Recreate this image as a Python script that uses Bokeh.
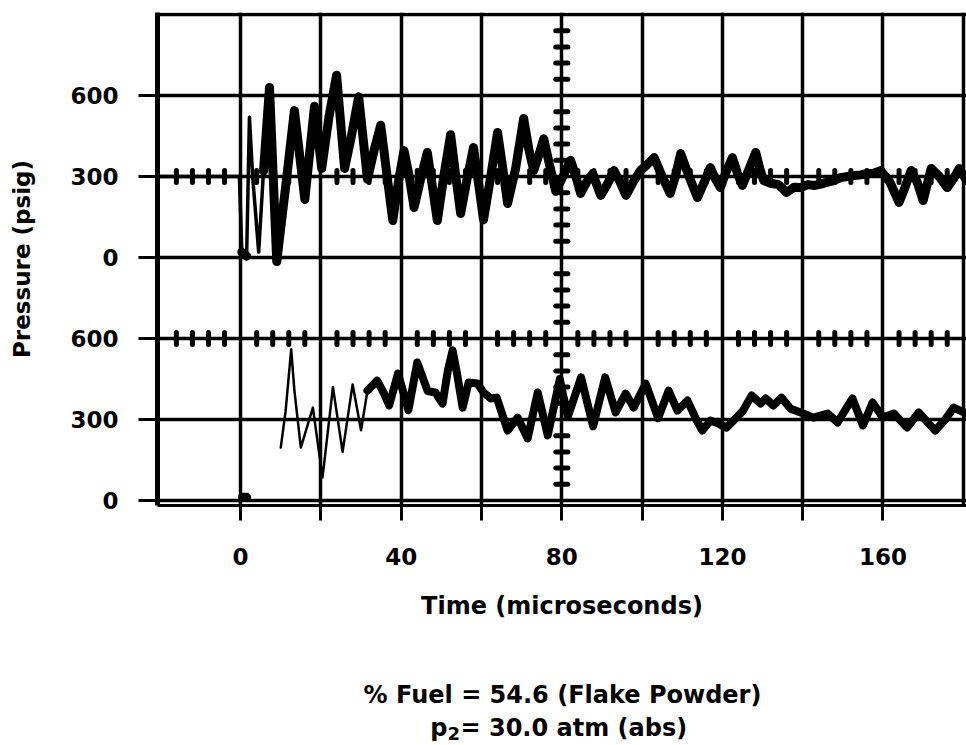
from bokeh.plotting import figure
from bokeh.layouts import column
from bokeh.models import FixedTicker, Range1d
from bokeh.core.properties import value
from bokeh.embed import file_html
from bokeh.resources import INLINE

# ---------------------------------------------------------------------------
# Pressure records (psig) against time (microseconds)
# ---------------------------------------------------------------------------

# upper gauge
top_time = [-20.7, -0.3, 0.3, 1.5, 2.2, 3.0, 4.5, 5.7, 7.2, 9.0, 11.2, 13.4, 16.0,
            18.4, 20.2, 22.0, 23.9, 25.9, 27.6, 29.4, 31.6, 33.3, 34.9, 36.5,
            37.9, 39.3, 40.7, 42.0, 43.2, 45.0, 46.5, 47.8, 49.0, 50.6, 52.3,
            53.6, 54.8, 56.4, 58.0, 59.3, 60.5, 62.3, 64.0, 65.3, 66.5, 68.5,
            70.5, 71.8, 73.0, 74.3, 75.5, 77.0, 78.5, 80.3, 82.2, 83.5, 84.7,
            86.2, 87.7, 88.7, 89.7, 91.3, 93.0, 94.5, 96.0, 97.8, 99.5, 101.3,
            103.0, 105.0, 107.0, 108.3, 109.6, 111.7, 113.8, 115.5, 117.0,
            118.3, 119.5, 121.0, 122.5, 123.8, 125.0, 126.7, 128.3, 129.3,
            130.3, 132.0, 134.0, 136.0, 137.8, 139.5, 141.3, 143.0, 144.5,
            146.0, 147.7, 149.4, 151.2, 153.0, 154.5, 156.0, 157.7, 159.4,
            161.7, 164.0, 165.5, 167.0, 168.5, 170.0, 171.0, 172.0, 174.0,
            176.0, 177.5, 179.0, 180.8]
top_psig = [300, 300, 20, 5, 519, 300, 20, 320, 630, -15, 260, 544, 215,
            560, 330, 520, 675, 330, 450, 595, 290, 400, 490, 300,
            137, 280, 396, 300, 185, 300, 389, 260, 137, 300, 455,
            300, 163, 290, 407, 270, 140, 300, 463, 330, 200, 330,
            515, 400, 322, 380, 440, 340, 245, 300, 360, 300, 237,
            280, 311, 270, 230, 270, 322, 280, 230, 280, 320, 345,
            370, 300, 237, 300, 385, 300, 222, 280, 333,
            290, 259, 320, 370, 310, 267, 330, 389, 330,
            285, 275, 270, 241, 260, 259, 270, 267, 272,
            278, 285, 296, 300, 304, 306, 311, 312, 322,
            280, 204, 260, 322, 280, 211, 270, 330, 300,
            259, 290, 330, 285]

# lower gauge
bottom_time = [0.5, 1.5, 10.0, 11.2, 12.6, 13.4, 15.0, 18.0, 20.4, 23.0, 25.4,
               27.9, 30.0, 31.6, 34.0, 35.6, 37.0, 39.2, 41.8, 44.0, 46.6,
               48.5, 50.3, 51.6, 52.8, 53.9, 55.3, 56.8, 59.0, 60.5, 62.3, 63.8,
               66.5, 69.0, 71.5, 74.0, 76.5, 79.5, 81.5, 84.8, 87.8, 90.8, 93.4,
               95.9, 97.9, 100.9, 104.0, 106.6, 108.8, 111.3, 113.5, 115.0,
               117.0, 119.0, 121.0, 123.5, 125.0, 127.3, 129.5, 130.8, 132.7,
               134.7, 137.0, 139.5, 142.7, 146.2, 148.7, 152.4, 155.0, 157.4,
               160.0, 162.7, 166.0, 168.9, 173.0, 175.5, 177.6, 180.8]
bottom_psig = [12, 12, 196, 330, 560, 407, 196, 344, 85, 420, 180,
               430, 260, 407, 444, 400, 352, 470, 335, 511, 405,
               400, 359, 480, 556, 470, 344, 437, 433, 400, 378, 381,
               259, 307, 230, 400, 241, 450, 310, 456, 275, 456, 326,
               396, 344, 433, 305, 407, 333, 370, 300, 259,
               296, 285, 270, 307, 330, 389, 359, 378, 352,
               381, 340, 326, 307, 322, 289, 378, 278, 363,
               307, 322, 270, 326, 259, 300, 344, 322]

# axis ticks and labels
x_ticks = [0, 20, 40, 60, 80, 100, 120, 140, 160]
x_tick_labels = ["0", "", "40", "", "80", "", "120", "", "160"]
y_ticks = [0, 300, 600, 900, 1200, 1500]
y_tick_labels = ["0", "300", "600", "0", "300", "600"]

# caption
caption_line1 = "% Fuel = 54.6 (Flake Powder)"
caption_p, caption_sub, caption_rest = "p", "2", "= 30.0 atm (abs)"

UPPER_OFFSET = 900          # upper record is stacked 900 units above the lower
FONT = "DejaVu Sans"
CHART_H = 632
CAPTION_H = 745 - CHART_H
FRAME_LEFT = 157

# ---------------------------------------------------------------------------
p = figure(width=966, height=CHART_H,
           x_range=Range1d(-20.7, 180.8), y_range=Range1d(-18.5, 1807.4),
           output_backend="svg", toolbar_location=None,
           min_border_left=FRAME_LEFT, min_border_right=0,
           min_border_top=12, min_border_bottom=CHART_H - 505)
p.background_fill_color = "white"
p.border_fill_color = "white"
p.outline_line_color = None

# graticule
p.xgrid.ticker = FixedTicker(ticks=list(range(0, 181, 20)))
p.ygrid.ticker = FixedTicker(ticks=list(range(0, 1801, 300)))
for g in (p.xgrid, p.ygrid):
    g.grid_line_color = "black"
    g.grid_line_width = 3.5
    g.grid_line_alpha = 1.0

# axes
xa = p.xaxis[0]
xa.ticker = FixedTicker(ticks=x_ticks)
xa.major_label_overrides = dict(zip(x_ticks, x_tick_labels))
xa.axis_line_width = 3
xa.major_tick_line_width = 3
xa.major_tick_out = 15
xa.major_tick_in = 0
xa.minor_tick_line_color = None
xa.major_label_standoff = 27
xa.major_label_text_font = FONT
xa.major_label_text_font_style = "bold"
xa.major_label_text_font_size = "23px"
xa.major_label_text_color = "black"
xa.axis_label = "Time (microseconds)"
xa.axis_label_text_font = FONT
xa.axis_label_text_font_style = "bold"
xa.axis_label_text_font_size = "24px"
xa.axis_label_text_color = "black"
xa.axis_label_standoff = 24

ya = p.yaxis[0]
ya.ticker = FixedTicker(ticks=y_ticks)
ya.major_label_overrides = dict(zip(y_ticks, y_tick_labels))
ya.axis_line_width = 5
ya.major_tick_line_width = 3
ya.major_tick_out = 19
ya.major_tick_in = 0
ya.minor_tick_line_color = None
ya.major_label_standoff = 20
ya.major_label_text_font = FONT
ya.major_label_text_font_style = "bold"
ya.major_label_text_font_size = "23px"
ya.major_label_text_color = "black"
ya.axis_label = "Pressure (psig)"
ya.axis_label_text_font = FONT
ya.axis_label_text_font_style = "bold"
ya.axis_label_text_font_size = "23px"
ya.axis_label_text_color = "black"
ya.axis_label_standoff = 32

# timing marks: every 4 us along the reference lines, every 60 units up the 80 us line
mark_t = [t for t in range(-16, 180, 4) if t % 20 != 0]
mark_y = [v for v in range(60, 1800, 60) if v % 300 != 0]
half_v = 22      # half-length of a vertical mark, y units
half_h = 1.5     # half-length of a horizontal mark, us
for base in (1200, 600):
    p.segment(x0=mark_t, y0=[base - half_v] * len(mark_t),
              x1=mark_t, y1=[base + half_v] * len(mark_t),
              line_width=5, line_cap="round", color="black")
p.segment(x0=[80 - half_h] * len(mark_y), y0=mark_y,
          x1=[80 + half_h] * len(mark_y), y1=mark_y,
          line_width=5, line_cap="round", color="black")

# upper record: fast initial excursion drawn faint, the rest heavy
top_y = [v + UPPER_OFFSET for v in top_psig]
split_top = top_time.index(5.7) + 1
p.line(top_time[:split_top], top_y[:split_top], line_width=3.5, color="black",
       line_join="round", line_cap="round")
p.line(top_time[2:4], top_y[2:4], line_width=9, color="black", line_cap="round")
p.line(top_time[split_top - 1:], top_y[split_top - 1:], line_width=9, color="black",
       line_join="round", line_cap="round")

# lower record: start dot, faint early trace, heavy trace afterwards
p.line(bottom_time[:2], bottom_psig[:2], line_width=9, color="black", line_cap="round")
split_bot = bottom_time.index(31.6)
p.line(bottom_time[2:split_bot + 1], bottom_psig[2:split_bot + 1], line_width=2.5,
       color="black", line_join="round", line_cap="round")
p.line(bottom_time[split_bot:], bottom_psig[split_bot:], line_width=8, color="black",
       line_join="round", line_cap="round")

# ---------------------------------------------------------------------------
# caption strip under the chart; its frame lines up with the chart frame,
# so x is given in page pixels and y in pixels below the chart (pointing down)
cap = figure(width=966, height=CAPTION_H,
             x_range=Range1d(FRAME_LEFT, 966), y_range=Range1d(CAPTION_H, 0),
             output_backend="svg", toolbar_location=None,
             min_border_left=FRAME_LEFT, min_border_right=0,
             min_border_top=0, min_border_bottom=0)
cap.axis.visible = False
cap.grid.visible = False
cap.outline_line_color = None
cap.background_fill_color = "white"
cap.border_fill_color = "white"

style = dict(text_font=value(FONT), text_font_style="bold", text_color="black",
             text_baseline="alphabetic")
base1 = 694 - CHART_H
base2 = 727 - CHART_H
cap.text(x=[562], y=[base1], text=[caption_line1], text_align="center",
         text_font_size="24px", **style)
cap.text(x=[447], y=[base2], text=[caption_p], text_align="right",
         text_font_size="24px", **style)
cap.text(x=[447], y=[base2 + 6], text=[caption_sub], text_align="left",
         text_font_size="18px", **style)
cap.text(x=[460], y=[base2], text=[caption_rest], text_align="left",
         text_font_size="24px", **style)

layout = column(p, cap, spacing=0)
open("out.html", "w").write(file_html(layout, INLINE))
